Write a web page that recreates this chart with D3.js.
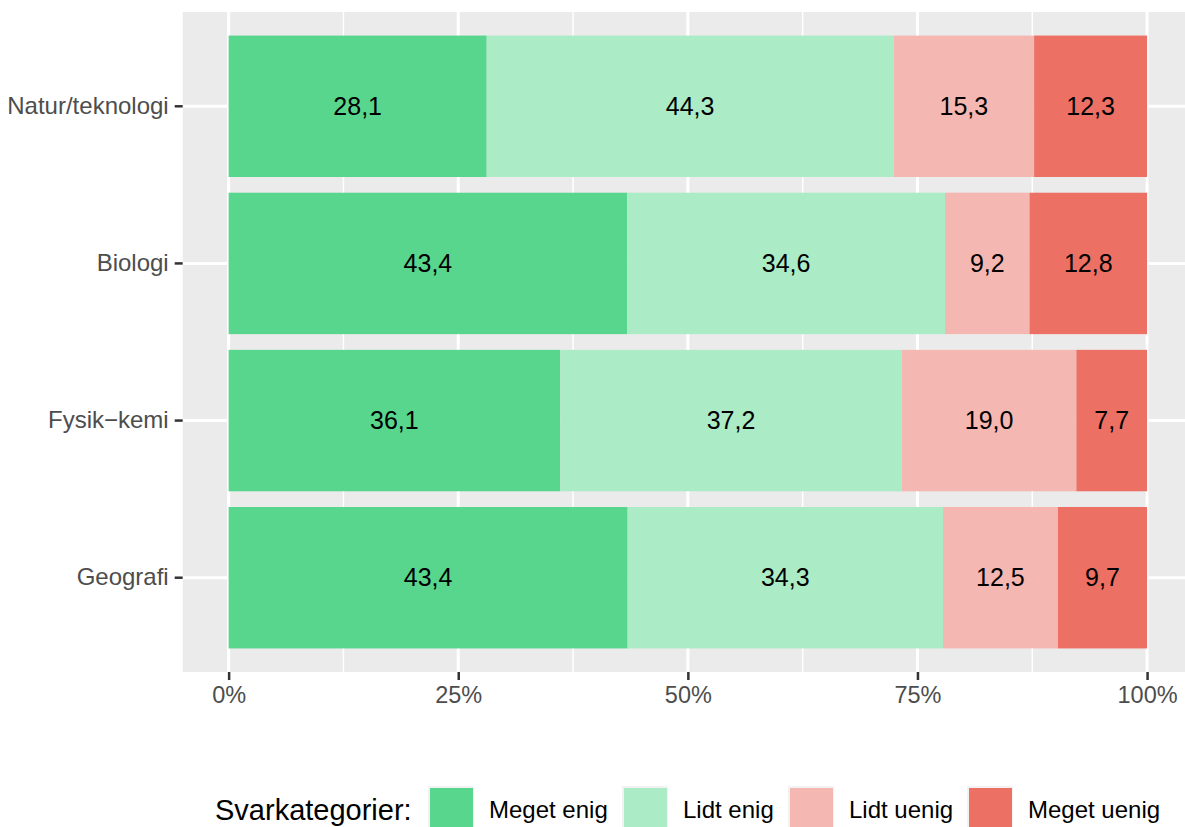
<!DOCTYPE html>
<html lang="da">
<head>
    <meta charset="UTF-8">
    <title>Svarkategorier</title>
    <script src="https://d3js.org/d3.v7.min.js"></script>
    <style>
        body { margin: 0; background: #fff; }
        text { font-family: "Liberation Sans", Arial, Helvetica, sans-serif; }
    </style>
</head>
<body>
    <div id="chart"></div>

    <script>
        // Data (percent per subject)
        const subjects = ["Natur/teknologi", "Biologi", "Fysik\u2212kemi", "Geografi"];
        const answerCats = ["Meget enig", "Lidt enig", "Lidt uenig", "Meget uenig"];
        const catColors = ["#58D68D", "#ABEBC6", "#F5B7B1", "#EC7063"];
        const megetEnig = [28.1, 43.4, 36.1, 43.4];
        const lidtEnig = [44.3, 34.6, 37.2, 34.3];
        const lidtUenig = [15.3, 9.2, 19.0, 12.5];
        const megetUenig = [12.3, 12.8, 7.7, 9.7];
        const xTicks = [0, 0.25, 0.5, 0.75, 1];
        const xMinor = [0.125, 0.375, 0.625, 0.875];

        const width = 1185, height = 827;
        const panel = { left: 182.7, top: 12, right: 1193, bottom: 672 };

        const rows = subjects.map((s, i) => ({
            subject: s,
            "Meget enig": megetEnig[i],
            "Lidt enig": lidtEnig[i],
            "Lidt uenig": lidtUenig[i],
            "Meget uenig": megetUenig[i]
        }));

        const series = d3.stack()
            .keys(answerCats)
            .offset(d3.stackOffsetExpand)(rows);

        const svg = d3.select("#chart")
            .append("svg")
            .attr("width", width)
            .attr("height", height);

        const x = d3.scaleLinear()
            .domain([-0.05, 1.05])
            .range([panel.left, panel.right]);

        const y = d3.scaleBand()
            .domain(subjects)
            .range([panel.top, panel.bottom])
            .paddingInner(0.1)
            .paddingOuter(0.15);

        const color = d3.scaleOrdinal().domain(answerCats).range(catColors);
        const locale = d3.formatLocale({ decimal: ",", thousands: ".", grouping: [3], currency: ["", " kr"] });
        const fmt = locale.format(".1f");

        // panel background + grid
        svg.append("rect")
            .attr("x", panel.left).attr("y", panel.top)
            .attr("width", panel.right - panel.left)
            .attr("height", panel.bottom - panel.top)
            .attr("fill", "#EBEBEB");

        svg.append("g").selectAll("line")
            .data(xMinor)
            .join("line")
            .attr("x1", d => x(d)).attr("x2", d => x(d))
            .attr("y1", panel.top).attr("y2", panel.bottom)
            .attr("stroke", "#fff").attr("stroke-width", 1.5);

        svg.append("g").selectAll("line")
            .data(xTicks)
            .join("line")
            .attr("x1", d => x(d)).attr("x2", d => x(d))
            .attr("y1", panel.top).attr("y2", panel.bottom)
            .attr("stroke", "#fff").attr("stroke-width", 3);

        svg.append("g").selectAll("line")
            .data(subjects)
            .join("line")
            .attr("x1", panel.left).attr("x2", panel.right)
            .attr("y1", d => y(d) + y.bandwidth() / 2)
            .attr("y2", d => y(d) + y.bandwidth() / 2)
            .attr("stroke", "#fff").attr("stroke-width", 3);

        // bars
        const layers = svg.append("g").selectAll("g")
            .data(series)
            .join("g")
            .attr("fill", d => color(d.key));

        layers.selectAll("rect")
            .data(d => d)
            .join("rect")
            .attr("x", d => x(d[0]))
            .attr("width", d => x(d[1]) - x(d[0]))
            .attr("y", d => y(d.data.subject))
            .attr("height", y.bandwidth());

        // value labels
        const labels = svg.append("g")
            .attr("font-size", 25)
            .attr("fill", "#000")
            .attr("text-anchor", "middle");

        series.forEach(s => {
            labels.selectAll(null)
                .data(s)
                .join("text")
                .attr("x", d => x((d[0] + d[1]) / 2))
                .attr("y", d => y(d.data.subject) + y.bandwidth() / 2)
                .attr("dy", "0.35em")
                .text(d => fmt(d.data[s.key]));
        });

        // x axis
        const xAxis = svg.append("g")
            .attr("transform", `translate(0,${panel.bottom})`)
            .call(d3.axisBottom(x)
                .tickValues(xTicks)
                .tickSize(8)
                .tickPadding(6)
                .tickFormat(d3.format(".0%")));
        xAxis.select(".domain").remove();
        xAxis.selectAll("line").attr("stroke", "#333").attr("stroke-width", 2.5);
        xAxis.selectAll("text")
            .attr("font-size", 23.5)
            .attr("fill", "#4D4D4D")
            .style("font-family", "'Liberation Sans', Arial, sans-serif");

        // y axis
        const yAxis = svg.append("g")
            .attr("transform", `translate(${panel.left},0)`)
            .call(d3.axisLeft(y).tickSize(8).tickPadding(6));
        yAxis.select(".domain").remove();
        yAxis.selectAll("line").attr("stroke", "#333").attr("stroke-width", 2.5);
        yAxis.selectAll("text")
            .attr("font-size", 24)
            .attr("fill", "#4D4D4D")
            .style("font-family", "'Liberation Sans', Arial, sans-serif");

        // legend
        const legend = svg.append("g");
        const keyTop = 786, keyW = 46, keyH = 47;
        const keyX = [428, 622, 788, 967];
        legend.append("text")
            .attr("x", 215)
            .attr("y", keyTop + keyH / 2)
            .attr("dy", "0.35em")
            .attr("font-size", 29)
            .attr("fill", "#000")
            .text("Svarkategorier:");

        answerCats.forEach((c, i) => {
            const kx = keyX[i];
            legend.append("rect")
                .attr("x", kx).attr("y", keyTop)
                .attr("width", keyW).attr("height", keyH)
                .attr("fill", "#F2F2F2");
            legend.append("rect")
                .attr("x", kx + 2).attr("y", keyTop + 2)
                .attr("width", keyW - 3).attr("height", keyH - 4)
                .attr("fill", color(c));
            legend.append("text")
                .attr("x", kx + keyW + 15)
                .attr("y", keyTop + keyH / 2)
                .attr("dy", "0.35em")
                .attr("font-size", 24)
                .attr("fill", "#000")
                .text(c);
        });
    </script>
</body>
</html>
